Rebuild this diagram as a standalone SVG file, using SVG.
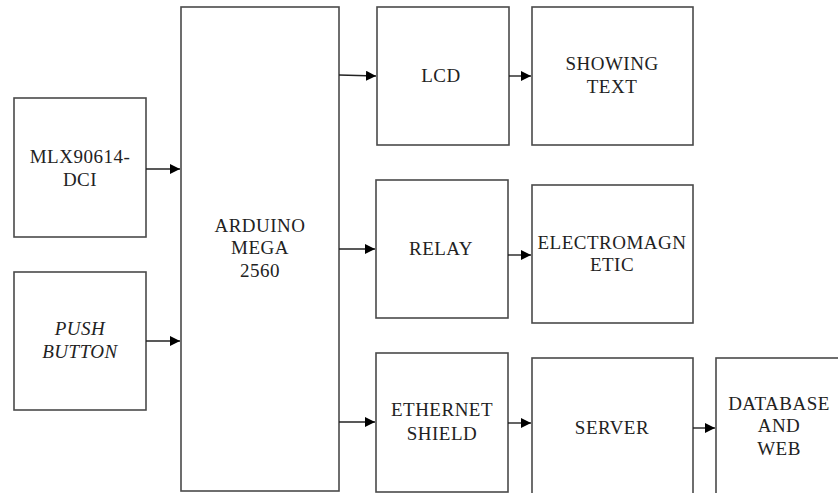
<svg xmlns="http://www.w3.org/2000/svg" width="838" height="493" viewBox="0 0 838 493">
<style>
.box{fill:#fff;stroke:#4a4a4a;stroke-width:1.6}
text{font-family:'Liberation Serif','DejaVu Serif','Times New Roman',serif;font-size:19px;fill:#222;text-anchor:middle;letter-spacing:0.5px}
.i{font-style:italic}
.c{stroke:#222;stroke-width:1.4;fill:none;marker-end:url(#ah)}
</style>
<defs>
<marker id="ah" viewBox="0 0 10 10" refX="10" refY="5" markerWidth="10" markerHeight="10" markerUnits="userSpaceOnUse" orient="auto">
<path d="M0,0 L10,5 L0,10 Z" fill="#000"/>
</marker>
</defs>
<rect width="838" height="493" fill="#fff"/>
<g id="mlx"><rect class="box" x="14" y="98" width="132" height="139"/><text x="80" y="163">MLX90614-</text><text x="80" y="186">DCI</text></g>
<g id="push"><rect class="box" x="14" y="272" width="132" height="138"/><text class="i" x="80" y="335">PUSH</text><text class="i" x="80" y="358">BUTTON</text></g>
<g id="arduino"><rect class="box" x="181" y="7" width="158" height="484"/><text x="260" y="232">ARDUINO</text><text x="260" y="254">MEGA</text><text x="260" y="277">2560</text></g>
<g id="lcd"><rect class="box" x="377" y="7" width="132" height="138"/><text x="441" y="82">LCD</text></g>
<g id="showing"><rect class="box" x="532" y="7" width="161" height="138"/><text x="612" y="70">SHOWING</text><text x="612" y="93">TEXT</text></g>
<g id="relay"><rect class="box" x="376" y="180" width="132" height="138"/><text x="441" y="255">RELAY</text></g>
<g id="electro"><rect class="box" x="532" y="185" width="161" height="138"/><text x="612" y="249">ELECTROMAGN</text><text x="612" y="271">ETIC</text></g>
<g id="ethernet"><rect class="box" x="376" y="353" width="132" height="139"/><text x="442" y="416">ETHERNET</text><text x="442" y="440">SHIELD</text></g>
<g id="server"><rect class="box" x="532" y="358" width="161" height="145"/><text x="612" y="434">SERVER</text></g>
<g id="database"><rect class="box" x="716" y="358" width="140" height="145"/><text x="779" y="410">DATABASE</text><text x="779" y="432">AND</text><text x="779" y="455">WEB</text></g>
<g id="connectors">
<line class="c" x1="146" y1="169" x2="180" y2="169"/>
<line class="c" x1="146" y1="341" x2="180" y2="341"/>
<line class="c" x1="339" y1="75" x2="376" y2="76"/>
<line class="c" x1="339" y1="249" x2="375" y2="249"/>
<line class="c" x1="339" y1="422" x2="375" y2="422"/>
<line class="c" x1="509" y1="76" x2="531" y2="76"/>
<line class="c" x1="508" y1="255" x2="531" y2="255"/>
<line class="c" x1="508" y1="423" x2="531" y2="423"/>
<line class="c" x1="693" y1="428" x2="715" y2="428"/>
</g>
</svg>
